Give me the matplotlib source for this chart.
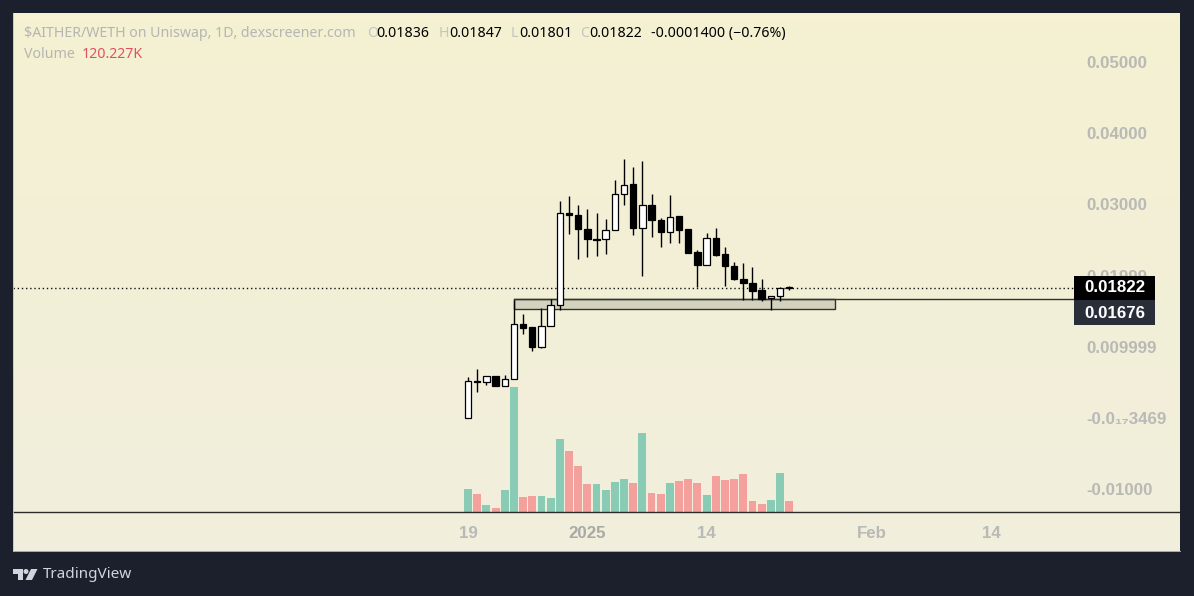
import numpy as np
import matplotlib
matplotlib.use('Agg')
import matplotlib.pyplot as plt
from matplotlib.patches import Rectangle, Polygon, Circle

# --------------------------------------- Data -------------------------------------

opens = [-0.00004, 0.00521, 0.00503, 0.00587, 0.00446, 0.00545, 0.01324, 0.01268, 0.0099,
         0.01292, 0.01587, 0.02887, 0.02859, 0.02658, 0.02521, 0.02517, 0.02644, 0.03151,
         0.03282, 0.02672, 0.02996, 0.02785, 0.02616, 0.02831, 0.02648, 0.02324, 0.02151,
         0.02531, 0.02296, 0.02137, 0.01954, 0.01901, 0.01789, 0.0168, 0.01708, 0.01836]
highs = [0.00577, 0.00686, 0.00582, 0.00587, 0.00592, 0.01648, 0.01451, 0.01268, 0.01545,
         0.01672, 0.03056, 0.03113, 0.02986, 0.0293, 0.02887, 0.02789, 0.03338, 0.03634,
         0.03535, 0.03606, 0.03141, 0.02813, 0.03127, 0.02831, 0.02648, 0.02366, 0.02601,
         0.02672, 0.02408, 0.02197, 0.02173, 0.02113, 0.01954, 0.01714, 0.01841, 0.01847]
lows = [-0.00004, 0.00356, 0.00451, 0.00446, 0.00446, 0.00545, 0.01183, 0.00934, 0.00972,
        0.01292, 0.01517, 0.02587, 0.0223, 0.02258, 0.02272, 0.02296, 0.02644, 0.02986,
        0.02568, 0.02, 0.02549, 0.02408, 0.02455, 0.02455, 0.02314, 0.01845, 0.02151,
        0.02272, 0.01859, 0.01934, 0.01658, 0.01648, 0.01638, 0.01511, 0.01638, 0.01801]
closes = [0.00521, 0.00497, 0.00582, 0.00446, 0.00545, 0.0132, 0.01258, 0.0099, 0.01292,
          0.01587, 0.02883, 0.02849, 0.02652, 0.02511, 0.02507, 0.02644, 0.03151, 0.03278,
          0.02666, 0.02996, 0.02779, 0.0261, 0.02827, 0.02638, 0.02314, 0.02145, 0.02531,
          0.02286, 0.02131, 0.01944, 0.01892, 0.01779, 0.01676, 0.01714, 0.01827, 0.01822]

# volume in thousands, 1 = green, 0 = red
volumes = [251, 197, 77, 44, 240, 1366, 164, 175, 175, 153, 798, 667, 503, 306, 306, 240, 328, 361,
           317, 863, 208, 197, 317, 339, 361, 317, 186, 393, 350, 361, 415, 120, 87, 131, 426, 120.227]
vol_up = [1, 0, 1, 0, 1, 1, 0, 0, 1, 1, 1, 0, 0, 0, 1, 1, 1, 1,
          0, 1, 0, 0, 1, 0, 0, 0, 1, 0, 0, 0, 0, 0, 0, 1, 1, 0]

x_ticks = [0, 13, 26, 44, 57]
x_labels = ['19', '2025', '14', 'Feb', '14']
y_ticks = [0.05, 0.04, 0.03, 0.02, 0.01, 0.0, -0.01]
y_labels = ['0.05000', '0.04000', '0.03000', '0.01999', '0.009999', '-0.0₁₇3469', '-0.01000']

last_price = 0.01822
level_price = 0.01676
zone_bottom = 0.01535
zone_start = 5
zone_end = 40

# --------------------------------------- Plot -------------------------------------

W, H = 1194, 596
DARK = '#1c202c'
GRAY = '#b9b9b6'
FONT = ['Noto Sans', 'DejaVu Sans']
AXIS_FONT = ['Liberation Sans', 'DejaVu Sans']
plt.rcParams['font.family'] = FONT

fig = plt.figure(figsize=(W / 100, H / 100), dpi=100, facecolor=DARK)
rect = [13 / W, 1 - 551 / H, (1180 - 13) / W, (551 - 13) / H]

bg = fig.add_axes(rect, zorder=0)
bg.imshow(np.linspace(0, 1, 64).reshape(-1, 1), aspect='auto',
          cmap=matplotlib.colors.LinearSegmentedColormap.from_list('bg', ['#f5f1d2', '#f1eedd']))
bg.axis('off')

xs = np.arange(len(opens))
xlim = (-49.6, 77.6)

vol = fig.add_axes(rect, zorder=1, facecolor='none')
vol.bar(xs, volumes, width=0.86, color=['#89cbb4' if u else '#f4a19e' for u in vol_up], linewidth=0)
vol.set_xlim(*xlim)
vol.set_ylim(-39 * 10.93, 499 * 10.93)
vol.axhline(0, color='#2a2a28', lw=1.0)
vol.axis('off')

ax = fig.add_axes(rect, zorder=2, facecolor='none')
ax.set_xlim(*xlim)
ax.set_ylim(-0.0188, 0.05697)

ax.add_patch(Rectangle((zone_start, zone_bottom), zone_end - zone_start, level_price - zone_bottom,
                       facecolor='#d3d2be', edgecolor='#33332e', lw=1.0, zorder=1))
ax.plot([zone_start, 66.2], [level_price, level_price], color='#33332e', lw=1.0, zorder=1)
ax.plot([xlim[0], 66.2], [last_price, last_price], color='#111111', lw=1.0, ls=(0, (1, 2)), zorder=1.5)

ax.vlines(xs, lows, highs, color='#000000', lw=1.0, zorder=2)
for i in xs:
    up = closes[i] >= opens[i]
    ax.bar(i, abs(closes[i] - opens[i]), bottom=min(opens[i], closes[i]), width=0.7,
           facecolor='#ffffff' if up else '#000000', edgecolor='#000000', lw=0.9, zorder=3)

ax.yaxis.tick_right()
ax.set_yticks(y_ticks)
ax.set_yticklabels(y_labels, fontsize=12.2, color=GRAY, fontweight='bold', family=AXIS_FONT)
ax.tick_params(axis='y', length=0, pad=-67.7)
for lab in ax.get_yticklabels():
    lab.set_horizontalalignment('left')
ax.set_xticks(x_ticks)
ax.set_xticklabels(x_labels, fontsize=12.2, color=GRAY, fontweight='bold', family=AXIS_FONT)
ax.tick_params(axis='x', length=0, pad=-18)
ax.get_xticklabels()[1].set_color('#a9a9a6')
for name, s in ax.spines.items():
    s.set_visible(name in ('left', 'bottom'))
    s.set_color('#c4c4bb')
    s.set_linewidth(0.6)

# header, price boxes and logo in pixel coordinates
top = fig.add_axes([0, 0, 1, 1], zorder=3, facecolor='none')
top.set_xlim(0, W)
top.set_ylim(H, 0)
top.axis('off')


def header(x, y, s, color='#000000'):
    top.text(x, y, s, color=color, fontsize=10.2, va='center', ha='left')


header(24, 33.5, '$AITHER/WETH on Uniswap, 1D, dexscreener.com', '#b5b5b3')
for x, s in [(367, 'O'), (439, 'H'), (511, 'L'), (580, 'C')]:
    header(x, 33.5, s, '#c4c4c0')
for x, s in [(376, '0.01836'), (449, '0.01847'), (519, '0.01801'), (589, '0.01822'),
             (651, '-0.0001400 (−0.76%)')]:
    header(x, 33.5, s)
header(24, 55, 'Volume', '#b5b5b3')
header(82, 55, '120.227K', '#e2505c')

top.add_patch(Rectangle((1074, 276), 81, 24, facecolor='#000000', lw=0))
top.add_patch(Rectangle((1074, 300), 81, 25, facecolor='#2a2e39', lw=0))
top.text(1114.5, 288, '%.5f' % last_price, color='white', fontsize=12.2, fontweight='bold',
         family=AXIS_FONT, ha='center', va='center')
top.text(1114.5, 313, '%.5f' % level_price, color='white', fontsize=12.2, fontweight='bold',
         family=AXIS_FONT, ha='center', va='center')

logo = '#d1d4dc'
top.add_patch(Polygon([(13, 569), (23, 569), (23, 580), (18, 580), (18, 574), (13, 574)], facecolor=logo, lw=0))
top.add_patch(Circle((26, 571.5), 2.5, facecolor=logo, lw=0))
top.add_patch(Polygon([(31, 569), (37.5, 569), (32, 580), (25.5, 580)], facecolor=logo, lw=0))
top.text(43, 574.5, 'TradingView', color=logo, fontsize=11, va='center', ha='left')

fig.savefig('out.png', dpi=100, facecolor=DARK)
